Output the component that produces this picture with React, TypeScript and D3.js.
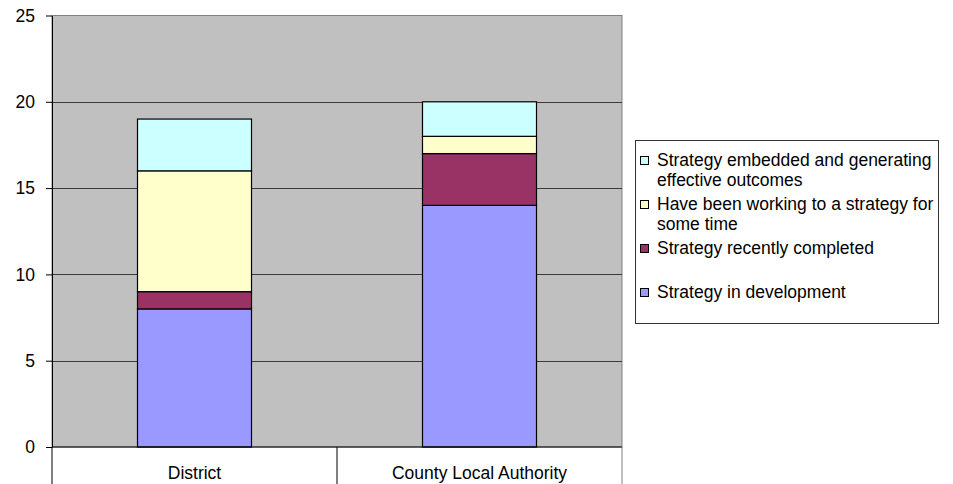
import React, { useRef, useEffect } from 'react';
import * as d3 from 'd3';

// categories on the x axis
const categories = ['District', 'County Local Authority'];

// series, bottom of the stack first
const seriesKeys = ['development', 'completed', 'working', 'embedded'];
const seriesLabels = [
    'Strategy in development',
    'Strategy recently completed',
    'Have been working to a strategy for some time',
    'Strategy embedded and generating effective outcomes',
];
// legend wraps these the same way the original does
const legendLines = [
    ['Strategy embedded and generating', 'effective outcomes'],
    ['Have been working to a strategy for', 'some time'],
    ['Strategy recently completed'],
    ['Strategy in development'],
];
const seriesColors = ['#9999FF', '#993366', '#FFFFCC', '#CCFFFF'];

// values per category, same order as categories
const development = [8, 14];
const completed = [1, 3];
const working = [7, 1];
const embedded = [3, 2];

const yTicks = [0, 5, 10, 15, 20, 25];

const W = 953;
const H = 484;
const FONT = 'Liberation Sans, Arial, Helvetica, sans-serif';

export default function App() {
    const svgRef = useRef<SVGSVGElement>(null);

    useEffect(() => {
        document.body.style.margin = '0';
        if (!svgRef.current) return;
        const svg = d3.select(svgRef.current);
        svg.selectAll('*').remove();

        const plot = { left: 52, right: 622, top: 15.5, bottom: 447 };

        const x = d3.scaleBand<string>()
            .domain(categories)
            .range([plot.left, plot.right])
            .padding(0);
        const y = d3.scaleLinear()
            .domain([0, 25])
            .range([plot.bottom, plot.top]);

        const rows = categories.map((c, i) => ({
            category: c,
            development: development[i],
            completed: completed[i],
            working: working[i],
            embedded: embedded[i],
        }));
        const stacked = d3.stack<any>().keys(seriesKeys)(rows);

        // plot background
        svg.append('rect')
            .attr('x', plot.left)
            .attr('y', plot.top)
            .attr('width', plot.right - plot.left)
            .attr('height', plot.bottom - plot.top)
            .attr('fill', '#C0C0C0')
            .attr('stroke', '#808080')
            .attr('stroke-width', 1);

        // gridlines
        svg.append('g')
            .selectAll('line')
            .data(yTicks.filter(t => t > 0 && t < 25))
            .join('line')
            .attr('x1', plot.left)
            .attr('x2', plot.right)
            .attr('y1', d => Math.round(y(d)) + 0.5)
            .attr('y2', d => Math.round(y(d)) + 0.5)
            .attr('stroke', '#3a3a3a')
            .attr('stroke-width', 1);

        // bars
        const barW = x.bandwidth() * 0.4;
        stacked.forEach((layer, si) => {
            svg.append('g')
                .selectAll('rect')
                .data(layer)
                .join('rect')
                .attr('x', d => x(d.data.category)! + (x.bandwidth() - barW) / 2)
                .attr('y', d => y(d[1]))
                .attr('width', barW)
                .attr('height', d => y(d[0]) - y(d[1]))
                .attr('fill', seriesColors[si])
                .attr('stroke', '#000')
                .attr('stroke-width', 1.2);
        });

        // y axis
        const yAxis = d3.axisLeft(y)
            .tickValues(yTicks)
            .tickSize(6)
            .tickSizeOuter(0)
            .tickPadding(11);
        const yg = svg.append('g')
            .attr('transform', `translate(${plot.left},0)`)
            .call(yAxis);
        yg.select('.domain').attr('stroke', '#000');
        yg.selectAll('line').attr('stroke', '#000');
        yg.selectAll('text')
            .attr('fill', '#000')
            .attr('font-family', FONT)
            .attr('font-size', '17.5px');
        yg.attr('font-family', FONT);

        // x axis line and category separators
        svg.append('line')
            .attr('x1', plot.left)
            .attr('x2', plot.right)
            .attr('y1', plot.bottom)
            .attr('y2', plot.bottom)
            .attr('stroke', '#000')
            .attr('stroke-width', 1.2);
        const edges = [...categories.map(c => x(c)!), plot.right];
        svg.append('g')
            .selectAll('line')
            .data(edges)
            .join('line')
            .attr('x1', d => d)
            .attr('x2', d => d)
            .attr('y1', plot.bottom)
            .attr('y2', H)
            .attr('stroke', (d, i) => (i === edges.length - 1 ? '#808080' : '#000'))
            .attr('stroke-width', 1);
        svg.append('g')
            .selectAll('text')
            .data(categories)
            .join('text')
            .attr('x', d => x(d)! + x.bandwidth() / 2)
            .attr('y', 479)
            .attr('text-anchor', 'middle')
            .attr('font-family', FONT)
            .attr('font-size', '17.5px')
            .attr('fill', '#000')
            .text(d => d);

        // legend
        const lg = { left: 635, right: 938, top: 140, bottom: 323 };
        svg.append('rect')
            .attr('x', lg.left + 0.5)
            .attr('y', lg.top + 0.5)
            .attr('width', lg.right - lg.left)
            .attr('height', lg.bottom - lg.top)
            .attr('fill', '#fff')
            .attr('stroke', '#333')
            .attr('stroke-width', 1);

        const entryStep = 44;
        const lineStep = 19.5;
        const firstCenter = 160;
        // legend lists the top series first
        legendLines.forEach((lines, i) => {
            const color = seriesColors[seriesColors.length - 1 - i];
            const cy = firstCenter + i * entryStep;
            svg.append('rect')
                .attr('x', 640.5)
                .attr('y', Math.round(cy - 4) + 0.5)
                .attr('width', 8)
                .attr('height', 8)
                .attr('fill', color)
                .attr('stroke', '#000')
                .attr('stroke-width', 1);
            lines.forEach((ln, j) => {
                svg.append('text')
                    .attr('x', 657)
                    .attr('y', cy + j * lineStep + 6)
                    .attr('font-family', FONT)
                    .attr('font-size', '17.5px')
                    .attr('fill', '#000')
                    .text(ln);
            });
        });
        // keep labels referenced for completeness
        svg.attr('aria-label', seriesLabels.join(', '));
    }, []);

    return (
        <svg
            ref={svgRef}
            width={W}
            height={H}
            style={{ display: 'block', background: '#fff' }}
        />
    );
}
